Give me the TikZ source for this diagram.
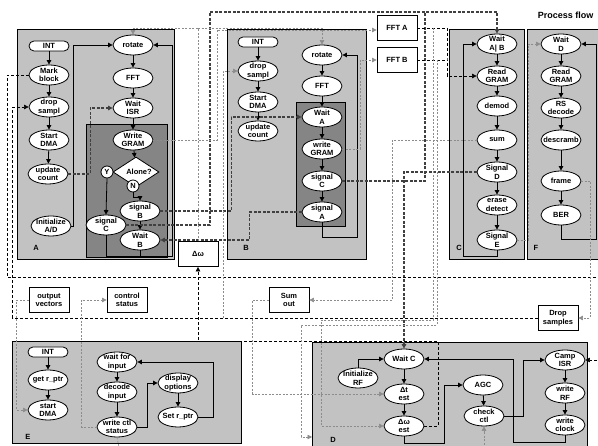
\documentclass[tikz,border=0pt]{standalone}
\usepackage{fontspec}
\setmainfont{Liberation Sans}
\usetikzlibrary{shapes.geometric,arrows.meta}

\tikzset{
  lbl/.style={font=\bfseries\fontsize{7.5}{8.6}\selectfont},
  blk/.style={draw, line width=0.9pt, fill=black!24},
  dark/.style={draw, line width=0.9pt, fill=black!48},
  ell/.style={lbl, ellipse, draw, fill=white, line width=0.8pt, minimum width=40pt,
    minimum height=20pt, inner xsep=-12pt, inner ysep=-8pt, align=center},
  intbox/.style={lbl, draw, fill=white, line width=0.8pt, rounded corners=5pt,
    minimum width=40pt, minimum height=10pt, inner sep=0pt},
  obox/.style={lbl, draw, fill=white, line width=0.8pt, minimum width=40pt,
    minimum height=25pt, inner sep=0pt, align=center},
  yn/.style={lbl, circle, draw, fill=white, line width=0.8pt, minimum size=12pt, inner sep=0pt},
  tip/.style={-{Triangle[length=4.5pt,width=4.5pt]}},
  flow/.style={tip, line width=0.8pt},
  sig/.style={line width=1.3pt, black!75, dash pattern=on 3pt off 1.5pt},
  ctl/.style={line width=0.6pt, dash pattern=on 3pt off 2pt},
  aux/.style={line width=0.6pt, black!45, dash pattern=on 2pt off 1.5pt},
}

\begin{document}
\begin{tikzpicture}[x=1pt,y=-1pt]
  \useasboundingbox (0,0) rectangle (598,446);
  \clip (0,0) rectangle (598,446);
  % Blocks
  \draw[blk] (17,29) rectangle (174,259);
  \draw[dark] (86,124) rectangle (167,257);
  \draw[blk] (227,29) rectangle (366,259);
  \draw[dark] (296,102) rectangle (345,226);
  \draw[blk] (449,29) rectangle (524,259);
  \draw[blk] (527,29) rectangle (604,259);
  \draw[blk] (12,341) rectangle (241,443);
  \draw[blk] (312,342) rectangle (587,452);
  \node[lbl] (labA) at (36,248) {A};
  \node[lbl] (labB) at (246,248) {B};
  \node[lbl] (labC) at (459,248) {C};
  \node[lbl] (labF) at (536,248) {F};
  \node[lbl] (labE) at (28,437) {E};
  \node[lbl] (labD) at (333,440) {D};
  \node[font=\bfseries\fontsize{9}{10}\selectfont, anchor=east] (title) at (597,15) {Process flow};

  % Block A
  \node[intbox] (intA) at (49,46) {INT};
  \node[ell] (markA) at (49,75) {Mark\\block};
  \node[ell] (dropA) at (49,107) {drop\\sampl};
  \node[ell] (dmaA) at (49,140) {Start\\DMA};
  \node[ell] (updA) at (48,174) {update\\count};
  \node[ell] (initA) at (51,226) {Initialize\\A/D};
  \node[ell] (rotA) at (133,45) {rotate};
  \node[ell] (fftA) at (133,78) {FFT};
  \node[ell] (isrA) at (133,108) {Wait\\ISR};
  \node[ell] (gramA) at (133,140) {Write\\GRAM};
  \node[lbl, diamond, draw, fill=white, line width=0.8pt, minimum width=46pt,
    minimum height=30pt, inner sep=-12pt] (alone) at (136,172) {\hspace*{6pt}Alone?};
  \node[yn] (yA) at (107,172) {Y};
  \node[yn] (nA) at (133,186) {N};
  \node[ell] (sigbA) at (140,211) {signal\\B};
  \node[ell] (sigcA) at (106,225) {signal\\C};
  \node[ell] (waitbA) at (140,240) {Wait\\B};

  % Block B
  \node[intbox] (intB) at (258,42) {INT};
  \node[ell] (dropB) at (258,71) {drop\\sampl};
  \node[ell] (dmaB) at (258,102) {Start\\DMA};
  \node[ell] (updB) at (258,131) {update\\count};
  \node[ell] (rotB) at (322,55) {rotate};
  \node[ell] (fftB) at (322,86) {FFT};
  \node[ell] (waitaB) at (322,117) {Wait\\A};
  \node[ell] (gramB) at (322,149) {write\\GRAM};
  \node[ell] (sigcB) at (322,181) {signal\\C};
  \node[ell] (sigaB) at (322,212) {signal\\A};

  % Blocks C and F
  \node[ell] (waitAB) at (497,44) {Wait\\A| B};
  \node[ell] (readC) at (497,76) {Read\\GRAM};
  \node[ell] (demod) at (497,106) {demod};
  \node[ell] (sum) at (497,140) {sum};
  \node[ell] (sigD) at (497,172) {Signal\\D};
  \node[ell] (erase) at (497,205) {erase\\detect};
  \node[ell] (sigE) at (497,240) {Signal\\E};
  \node[ell] (waitD) at (561,44) {Wait\\D};
  \node[ell] (readF) at (561,76) {Read\\GRAM};
  \node[ell] (rsdec) at (561,108) {RS\\decode};
  \node[ell] (descr) at (561,140) {descramb};
  \node[ell] (frame) at (561,181) {frame};
  \node[ell] (ber) at (561,215) {BER};

  % Boxes
  \node[obox] (ffta) at (397,28) {FFT A};
  \node[obox] (fftb) at (397,60) {FFT B};
  \node[obox] (dw) at (198,254) {Δω};
  \node[obox] (outv) at (49,300) {output\\vectors};
  \node[obox] (ctls) at (127,300) {control\\status};
  \node[obox] (sumout) at (289,300) {Sum\\out};
  \node[obox] (drops) at (558,318) {Drop\\samples};

  % Block E
  \node[intbox] (intE) at (48,352) {INT};
  \node[ell] (getr) at (48,380) {get r\_ptr};
  \node[ell] (dmaE) at (48,410) {start\\DMA};
  \node[ell] (wfi) at (117,362) {wait for\\input};
  \node[ell] (dec) at (117,392) {decode\\input};
  \node[ell] (wctl) at (117,427) {write ctl\\status};
  \node[ell] (disp) at (178,383) {display\\options};
  \node[ell] (setr) at (178,417) {Set r\_ptr};

  % Block D
  \node[ell] (waitC) at (404,359) {Wait C};
  \node[ell] (initRF) at (358,378) {Initialize\\RF};
  \node[ell] (dtest) at (404,394) {Δt\\est};
  \node[ell] (dwest) at (404,426) {Δω\\est};
  \node[ell] (agc) at (483,385) {AGC};
  \node[ell] (chk) at (484,416) {check\\ctl};
  \node[ell] (camp) at (565,360) {Camp\\ISR};
  \node[ell] (wrf) at (565,393) {write\\RF};
  \node[ell] (wclk) at (565,425) {write\\clock};

  % Flow inside A
  \draw[flow] (intA) -- (markA);
  \draw[flow] (markA) -- (dropA);
  \draw[flow] (dropA) -- (dmaA);
  \draw[flow] (dmaA) -- (updA);
  \draw[flow] (rotA) -- (fftA);
  \draw[flow] (fftA) -- (isrA);
  \draw[flow] (isrA) -- (gramA);
  \draw[flow] (gramA) -- (alone);
  \draw[flow] (yA.south) -- (sigcA.north);
  \draw[flow] (nA.south) -- ++(0,5) -| (sigbA.north);
  \draw[flow] (sigbA) -- (waitbA);
  \draw[flow] (initA.east) -- ++(2,0) |- (rotA.west);
  \draw[line width=0.8pt] (sigcA.south) |- (172,256);
  \draw[flow] (waitbA.south) |- (172,256) |- (rotA.east);
  \draw[sig,tip] (updA.east) -- ++(22,0) |- (isrA.west);

  % Flow inside B
  \draw[flow] (intB) -- (dropB);
  \draw[flow] (dropB) -- (dmaB);
  \draw[flow] (dmaB) -- (updB);
  \draw[flow] (rotB) -- (fftB);
  \draw[flow] (fftB) -- (waitaB);
  \draw[flow] (waitaB) -- (gramB);
  \draw[flow] (gramB) -- (sigcB);
  \draw[flow] (sigcB) -- (sigaB);
  \draw[flow] (sigaB.south) |- (357,237) |- (rotB.east);

  % Flow inside C and F
  \draw[flow] (waitAB) -- (readC);
  \draw[flow] (readC) -- (demod);
  \draw[flow] (demod) -- (sum);
  \draw[flow] (sum) -- (sigD);
  \draw[flow] (sigD) -- (erase);
  \draw[flow] (erase) -- (sigE);
  \draw[flow] (sigE.south) |- (463,256) |- (waitAB.west);
  \draw[flow] (waitD) -- (readF);
  \draw[flow] (readF) -- (rsdec);
  \draw[flow] (rsdec) -- (descr);
  \draw[flow] (descr) -- (frame);
  \draw[flow] (frame) -- (ber);
  \draw[flow] (ber.south) |- (596,239) |- (waitD.east);

  % Flow inside E
  \draw[flow] (intE) -- (getr);
  \draw[flow] (getr) -- (dmaE);
  \draw[flow] (wfi) -- (dec);
  \draw[flow] (dec) -- (wctl);
  \draw[flow] (wctl.east) -- ++(10,0) |- (disp.west);
  \draw[flow] (disp) -- (setr);
  \draw[flow] (setr.east) -- ++(15,0) |- (wfi.east);

  % Flow inside D
  \draw[flow] (initRF.north) |- (waitC.west);
  \draw[flow] (waitC) -- (dtest);
  \draw[flow] (dtest) -- (dwest);
  \draw[flow] (dwest.south) |- (444,443) |- (agc.west);
  \draw[flow] (agc) -- (chk);
  \draw[flow] (chk.east) -| (523,360) -- (camp.west);
  \draw[flow] (camp) -- (wrf);
  \draw[flow] (wrf) -- (wclk);
  \draw[flow] (wclk.south) |- (513,442) |- (waitC.east);

  % Signals between blocks
  \draw[sig,tip] (sigbA.east) -- ++(71,0) |- (waitaB.west);
  \draw[sig,tip] (sigaB.west) -- ++(-52,0) |- (waitbA.east);
  \draw[sig,tip] (sigcA.east) -| (210,12) -| (waitAB.north);
  \draw[sig] (sigcB.east) -| (425,12);
  \draw[sig,tip] (sigD.west) -| (waitC.north);

  % Data and control paths
  \coordinate (jdw) at (198,28);
  \coordinate (jffta) at (433,28);
  \coordinate (jfftb) at (437,60);
  \coordinate (jdrop) at (223,318);
  \coordinate (dIn) at (312,437);
  \coordinate (chkIn) at (484,452);
  \coordinate (wctlOut) at (120,452);
  \draw[ctl,tip] (ffta.east) -| (447,60) |- (readC.west);
  \draw[ctl] (fftb.east) -- (447,60);
  \draw[aux,tip] (gramB.east) -| (360,60) -- (fftb.west);
  \draw[aux,tip] (dw.north) -- (jdw) -| (rotA.north);
  \draw[aux,tip] (jdw) -| (rotB.north);
  \draw[aux,tip] (gramA.east) -| (217,30) -- (ffta.west |- 217,30);
  \draw[ctl,tip] (dwest.east) -| (438,341) -| (dw.south);
  \draw[ctl,tip] (markA.west) -| (7,277) -- (606,277) |- (camp.east);
  \draw[ctl,tip] (drops.west) -| ([xshift=-16pt]dropA.west) -- (dropA.west);
  \draw[aux,tip] (jdrop) |- (dropB.west);
  \draw[aux,tip] (frame.east) -| ([xshift=12pt]drops.east) -- (drops.east);
  \draw[aux,tip] (sum.west) -| ([xshift=83pt]sumout.east) -- (sumout.east);
  \draw[aux,tip] (sumout.west) -- ++(-16,0) |- (dtest.west);
  \draw[aux,tip] (jffta) |- (321,320) |- (dwest.west);
  \draw[aux,tip] (jfftb) |- (301,325) |- (dIn);
  \draw[aux,tip] (chkIn) -- (chk.south);
  \draw[aux] (wctl.south) -- (wctlOut);
  \draw[aux,tip] (outv.west) -- ++(-12,0) |- (dmaE.west);
  \draw[aux,tip] (wctl.west) -- ++(-15,0) |- (ctls.west);
  \draw[aux,tip] (sigE.east) -- ++(11,0) |- (waitD.west);
\end{tikzpicture}
\end{document}
